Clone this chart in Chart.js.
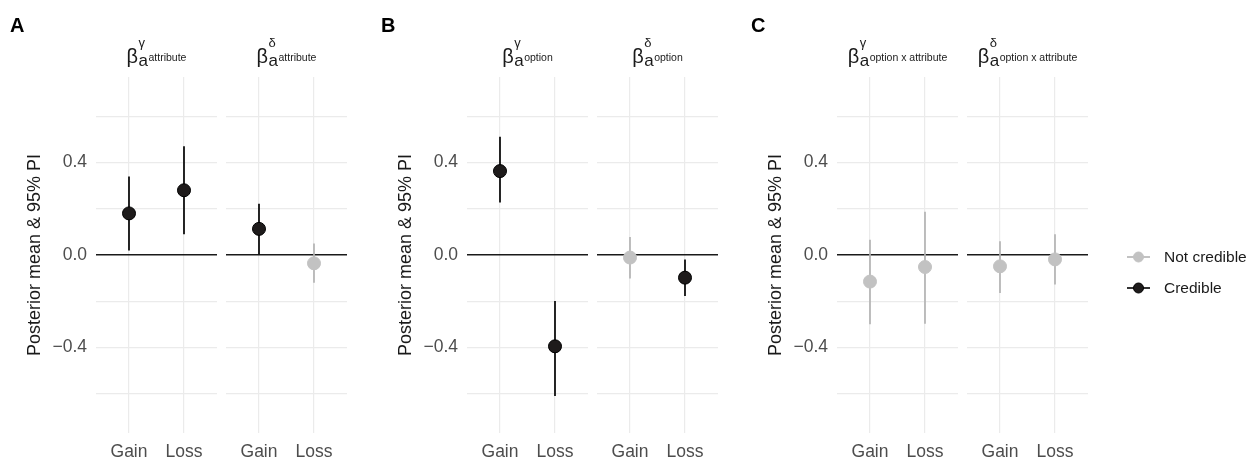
<!DOCTYPE html>
<html>
<head>
<meta charset="utf-8">
<script src="https://cdn.jsdelivr.net/npm/chart.js@4.4.0/dist/chart.umd.min.js"></script>
<style>
  html, body { margin: 0; padding: 0; background: #fff; }
  #wrap { position: relative; width: 1252px; height: 462px; overflow: hidden; }
  #wrap canvas { position: absolute; top: 0; }
</style>
</head>
<body>
<div id="wrap"></div>
<script>
var groups = ['Gain', 'Loss'];
var params = ['\u03b3', '\u03b4'];
var terms = ['attribute', 'option', 'option x attribute'];
var panelLetters = ['A', 'B', 'C'];
var legendLabels = ['Not credible', 'Credible'];

// posterior means and 95% PI bounds, [Gain, Loss]
var attributeGammaMean = [0.18, 0.28];
var attributeGammaLow = [0.02, 0.09];
var attributeGammaHigh = [0.34, 0.47];
var attributeDeltaMean = [0.113, -0.036];
var attributeDeltaLow = [0.003, -0.12];
var attributeDeltaHigh = [0.222, 0.05];

var optionGammaMean = [0.363, -0.395];
var optionGammaLow = [0.227, -0.61];
var optionGammaHigh = [0.512, -0.199];
var optionDeltaMean = [-0.011, -0.098];
var optionDeltaLow = [-0.102, -0.177];
var optionDeltaHigh = [0.078, -0.02];

var interactionGammaMean = [-0.115, -0.052];
var interactionGammaLow = [-0.30, -0.297];
var interactionGammaHigh = [0.066, 0.187];
var interactionDeltaMean = [-0.049, -0.019];
var interactionDeltaLow = [-0.164, -0.128];
var interactionDeltaHigh = [0.06, 0.09];

var facets = [
  { panel: 0, param: 0, mean: attributeGammaMean, low: attributeGammaLow, high: attributeGammaHigh },
  { panel: 0, param: 1, mean: attributeDeltaMean, low: attributeDeltaLow, high: attributeDeltaHigh },
  { panel: 1, param: 0, mean: optionGammaMean, low: optionGammaLow, high: optionGammaHigh },
  { panel: 1, param: 1, mean: optionDeltaMean, low: optionDeltaLow, high: optionDeltaHigh },
  { panel: 2, param: 0, mean: interactionGammaMean, low: interactionGammaLow, high: interactionGammaHigh },
  { panel: 2, param: 1, mean: interactionDeltaMean, low: interactionDeltaLow, high: interactionDeltaHigh }
];

var FONT = "'Liberation Sans', Arial, Helvetica, sans-serif";
var DARK = '#1e1b1b';
var GREY = '#c2c2c2';
var GREY_BAR = '#b3b3b3';
var GRID = '#ebebeb';

var plotLefts = [96, 226, 467, 597, 837, 967];
var facetWidth = 121;
var axisWidth = 96;
var legendWidth = 165;
var wrap = document.getElementById('wrap');

function isCredible(lo, hi) {
  return lo > 0 || hi < 0;
}

function fmtTick(v) {
  var r = Math.round(v * 10);
  if (r % 4 !== 0) return '';
  if (r === 0) return '0.0';
  return (r < 0 ? '\u2212' : '') + Math.abs(r / 10).toFixed(1);
}

var facetDecor = {
  id: 'facetDecor',
  afterDraw: function(chart, args, opts) {
    var ctx = chart.ctx;
    var area = chart.chartArea;
    var cx = (area.left + area.right) / 2;
    ctx.save();
    ctx.fillStyle = '#1a1a1a';
    ctx.textBaseline = 'alphabetic';
    ctx.textAlign = 'left';

    // strip label: beta, superscript param, subscript a with superscript term
    var fBeta = '20px ' + FONT, fSup = '13px ' + FONT, fA = '17px ' + FONT, fTerm = '10.5px ' + FONT;
    ctx.font = fBeta; var wB = ctx.measureText('\u03b2').width;
    ctx.font = fA; var wA = ctx.measureText('a').width;
    ctx.font = fTerm; var wT = ctx.measureText(opts.term).width;
    var total = wB + 0.5 + wA + 0.5 + wT;
    var x0 = cx - total / 2;
    ctx.font = fBeta; ctx.fillText('\u03b2', x0, 63);
    ctx.font = fSup; ctx.fillText(opts.param, x0 + wB + 0.5, 47);
    ctx.font = fA; ctx.fillText('a', x0 + wB + 0.5, 66);
    ctx.font = fTerm; ctx.fillText(opts.term, x0 + wB + 0.5 + wA + 0.5, 61);

    if (opts.letter) {
      ctx.font = 'bold 20px ' + FONT;
      ctx.fillStyle = '#000';
      ctx.fillText(opts.letter, 10, 32);
    }

    if (opts.legend) {
      var lx = area.right + 39;
      var ys = [257, 288];
      for (var i = 0; i < 2; i++) {
        var col = i === 0 ? GREY : DARK;
        ctx.strokeStyle = i === 0 ? GREY_BAR : '#000';
        ctx.lineWidth = 1.6;
        ctx.beginPath();
        ctx.moveTo(lx, ys[i]);
        ctx.lineTo(lx + 23, ys[i]);
        ctx.stroke();
        ctx.beginPath();
        ctx.arc(lx + 11.5, ys[i], 5, 0, Math.PI * 2);
        ctx.fillStyle = col;
        ctx.fill();
        ctx.strokeStyle = i === 0 ? GREY : '#000';
        ctx.lineWidth = 1;
        ctx.stroke();
        ctx.fillStyle = '#1a1a1a';
        ctx.font = '15.5px ' + FONT;
        ctx.textBaseline = 'middle';
        ctx.fillText(legendLabels[i], lx + 37, ys[i] + 1);
        ctx.textBaseline = 'alphabetic';
      }
    }
    ctx.restore();
  }
};

facets.forEach(function(f, idx) {
  var first = f.param === 0;
  var isLast = idx === facets.length - 1;
  var left = first ? plotLefts[idx] - axisWidth : plotLefts[idx];
  var width = (first ? axisWidth : 0) + facetWidth + (isLast ? legendWidth : 0);

  var canvas = document.createElement('canvas');
  canvas.width = width;
  canvas.height = 462;
  canvas.style.left = left + 'px';
  wrap.appendChild(canvas);

  var credible = f.mean.map(function(m, i) { return isCredible(f.low[i], f.high[i]); });

  var datasets = [{
    type: 'scatter',
    data: f.mean.map(function(m, i) { return { x: i + 1, y: m }; }),
    backgroundColor: credible.map(function(c) { return c ? DARK : GREY; }),
    borderColor: credible.map(function(c) { return c ? '#000' : GREY; }),
    borderWidth: 1,
    pointRadius: 6.5,
    order: 0
  }];
  f.mean.forEach(function(m, i) {
    datasets.push({
      type: 'line',
      data: [{ x: i + 1, y: f.low[i] }, { x: i + 1, y: f.high[i] }],
      borderColor: credible[i] ? '#000' : GREY_BAR,
      borderWidth: 1.7,
      pointRadius: 0,
      order: 1
    });
  });

  new Chart(canvas, {
    type: 'scatter',
    data: { datasets: datasets },
    plugins: [facetDecor],
    options: {
      responsive: false,
      animation: false,
      events: [],
      layout: {
        autoPadding: false,
        padding: { top: 77, left: 0, bottom: 0, right: isLast ? legendWidth : 0 }
      },
      plugins: {
        legend: { display: false },
        tooltip: { enabled: false },
        facetDecor: {
          term: terms[f.panel],
          param: params[f.param],
          letter: first ? panelLetters[f.panel] : null,
          legend: isLast
        }
      },
      scales: {
        x: {
          type: 'linear',
          min: 0.4,
          max: 2.6,
          afterBuildTicks: function(scale) {
            scale.ticks = groups.map(function(g, i) { return { value: i + 1 }; });
          },
          afterFit: function(scale) {
            scale.height = 29;
            scale.paddingLeft = 0;
            scale.paddingRight = 0;
          },
          border: { display: false },
          grid: { color: GRID, lineWidth: 1.2, drawTicks: false },
          ticks: {
            padding: 9,
            maxRotation: 0,
            autoSkip: false,
            color: '#4d4d4d',
            font: { family: FONT, size: 17.5 },
            callback: function(v) { return groups[Math.round(v) - 1]; }
          }
        },
        y: {
          min: -0.77,
          max: 0.77,
          afterFit: function(scale) {
            scale.width = first ? axisWidth : 0;
            scale.paddingTop = 0;
            scale.paddingBottom = 0;
          },
          border: { display: false },
          grid: {
            drawTicks: false,
            color: function(c) { return c.tick && Math.abs(c.tick.value) < 1e-9 ? '#1a1a1a' : GRID; },
            lineWidth: function(c) { return c.tick && Math.abs(c.tick.value) < 1e-9 ? 1.4 : 1.2; }
          },
          ticks: {
            display: first,
            stepSize: 0.2,
            includeBounds: false,
            padding: 9,
            color: '#4d4d4d',
            font: { family: FONT, size: 17.5 },
            callback: fmtTick
          },
          title: {
            display: first,
            text: 'Posterior mean & 95% PI',
            color: '#1a1a1a',
            font: { family: FONT, size: 18 },
            padding: { top: 24, bottom: 0 }
          }
        }
      }
    }
  });
});
</script>
</body>
</html>
